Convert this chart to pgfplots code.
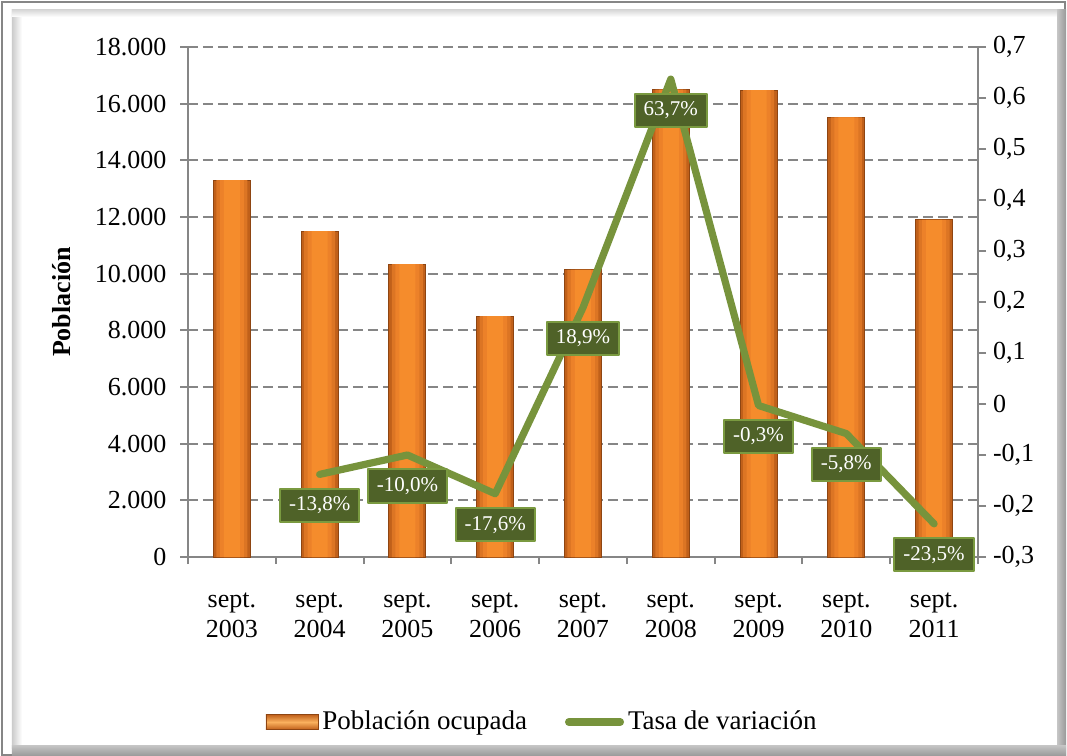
\documentclass[border=0pt]{standalone}
\usepackage{fontspec}
\setmainfont{Liberation Serif}
\usepackage{pgfplots}
\pgfplotsset{compat=1.18}
\definecolor{axgray}{HTML}{868686}
\definecolor{barorange}{HTML}{F58C2C}
\definecolor{barmid}{HTML}{EC8129}
\definecolor{barmid2}{HTML}{DC7524}
\definecolor{bardark}{HTML}{8E4512}
\definecolor{baredge}{HTML}{C0601A}
\definecolor{barlight}{HTML}{FAB15E}
\definecolor{linegreen}{HTML}{77933C}
\definecolor{lblfill}{HTML}{4F6228}
\definecolor{lblborder}{HTML}{7A9A40}
\pgfplotstableread{
x y
0 13300
1 11500
2 10340
3 8500
4 10130
5 16500
6 16480
7 15520
8 11900
}\pob
\begin{document}
\begin{tikzpicture}
% frame in image pixel coordinates (origin top-left, 1px = 0.5pt)
\begin{scope}[shift={(-94pt,278.5pt)}, x=0.5pt, y=-0.5pt]
 \fill[white] (0,0) rectangle (1067,756);
 \draw[axgray, line width=0.8pt] (2,2) rectangle (1065,755);
 \shade[left color=gray!40, right color=white] (12,10) rectangle (22,748);
 \shade[top color=gray!30, bottom color=white] (12,10) rectangle (1057,17);
 \shade[left color=gray!45, right color=gray!80] (1057,10) rectangle (1066,756);
 \shade[top color=gray!45, bottom color=gray!80] (12,745) rectangle (1066,756);
\end{scope}
\begin{axis}[
 at={(0pt,0pt)}, anchor=south west,
 scale only axis, width=395pt, height=255pt,
 xmin=-0.5, xmax=8.5, ymin=0, ymax=18000,
 axis x line*=bottom, axis y line*=left,
 axis line style={draw=axgray, line width=1pt},
 tick align=center, major tick length=7.5pt, minor tick length=3.5pt,
 scaled y ticks=false,
 xtick={0,1,2,3,4,5,6,7,8},
 xticklabels={{sept.\\2003},{sept.\\2004},{sept.\\2005},{sept.\\2006},{sept.\\2007},{sept.\\2008},{sept.\\2009},{sept.\\2010},{sept.\\2011}},
 major x tick style={draw=none},
 minor xtick={-0.5,0.5,1.5,2.5,3.5,4.5,5.5,6.5,7.5,8.5},
 minor x tick style={draw=axgray, line width=1pt, yshift=-1.75pt},
 ytick={0,2000,4000,6000,8000,10000,12000,14000,16000,18000},
 yticklabels={0,{2.000},{4.000},{6.000},{8.000},{10.000},{12.000},{14.000},{16.000},{18.000}},
 major y tick style={draw=axgray, line width=1pt},
 ymajorgrids,
 major grid style={draw=axgray, line width=1pt, dash pattern=on 5pt off 2.5pt},
 yticklabel style={font=\fontsize{13}{15}\selectfont, xshift=-3.5pt},
 xticklabel style={font=\fontsize{13}{15}\selectfont, align=center, yshift=-10.5pt},
 ylabel={Población},
 every axis y label/.style={at={(axis description cs:-0.1595,0.5)}, rotate=90, anchor=center, font=\fontsize{13}{15}\selectfont\bfseries},
]
\addplot[ybar, bar width=18.5pt, fill=baredge, draw=bardark, line width=0.5pt] table[x=x,y=y] {\pob};
\addplot[ybar, bar width=15.5pt, fill=barmid2, draw=none] table[x=x,y=y] {\pob};
\addplot[ybar, bar width=12pt, fill=barmid, draw=none] table[x=x,y=y] {\pob};
\addplot[ybar, bar width=8pt, fill=barorange, draw=none] table[x=x,y=y] {\pob};
\end{axis}
\begin{axis}[
 at={(0pt,0pt)}, anchor=south west,
 scale only axis, width=395pt, height=255pt,
 xmin=-0.5, xmax=8.5, ymin=-0.3, ymax=0.7,
 axis y line*=right, axis x line=none,
 axis line style={draw=axgray, line width=1pt},
 ytick={-0.3,-0.2,-0.1,0,0.1,0.2,0.3,0.4,0.5,0.6,0.7},
 yticklabels={{-0,3},{-0,2},{-0,1},0,{0,1},{0,2},{0,3},{0,4},{0,5},{0,6},{0,7}},
 tick align=outside, major tick length=4pt,
 major y tick style={draw=axgray, line width=1pt},
 yticklabel style={font=\fontsize{13}{15}\selectfont},
 clip=false,
 legend style={at={(axis description cs:0.4494,-0.3235)}, anchor=center, draw=none, fill=none,
   legend columns=2, font=\fontsize{13.5}{15}\selectfont,
   /tikz/every even column/.append style={column sep=17pt}},
 legend cell align=left,
]
\addlegendimage{legend image code/.code={\draw[top color=baredge, bottom color=baredge, middle color=barlight, draw=bardark] (0pt,-3.75pt) rectangle (26pt,3.75pt);}}
\addlegendentry{Población ocupada}
\addlegendimage{legend image code/.code={\draw[linegreen, line width=3.8pt, line cap=round] (1.9pt,0pt) -- (27.6pt,0pt);}}
\addlegendentry{Tasa de variación}
\addplot[linegreen, line width=3.6pt, line join=round, line cap=round, forget plot,
 nodes near coords, point meta=explicit symbolic,
 every node near coord/.append style={anchor=center, yshift=-15.5pt, fill=lblfill, draw=lblborder, line width=1pt,
   text=white, font=\fontsize{10.5}{12}\selectfont, inner xsep=4.5pt, inner ysep=4pt}]
 coordinates {(1,-0.138) [{-13,8\%}] (2,-0.100) [{-10,0\%}] (3,-0.176) [{-17,6\%}] (4,0.189) [{18,9\%}]
   (5,0.637) [{63,7\%}] (6,-0.003) [{-0,3\%}] (7,-0.058) [{-5,8\%}] (8,-0.235) [{-23,5\%}]};
\end{axis}
\end{tikzpicture}
\end{document}
